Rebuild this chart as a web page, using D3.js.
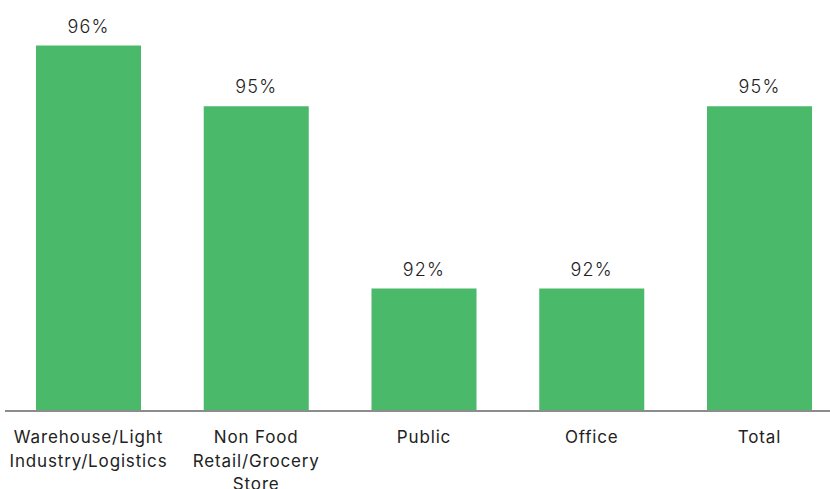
<!DOCTYPE html>
<html>
<head>
<meta charset="utf-8">
<script src="https://cdn.jsdelivr.net/npm/d3@7"></script>
<style>
  html, body { margin: 0; padding: 0; background: #fff; }
  svg { display: block; font-family: Inter, "Open Sans", sans-serif; }
</style>
</head>
<body>
<svg id="chart" width="830" height="489"></svg>
<script>
// Occupancy rate by sector
const categories = [
  ["Warehouse/Light", "Industry/Logistics"],
  ["Non Food", "Retail/Grocery", "Store"],
  ["Public"],
  ["Office"],
  ["Total"]
];
const values = [96, 95, 92, 92, 95];
const valueLabels = ["96%", "95%", "92%", "92%", "95%"];

const svg = d3.select("#chart");
const baseY = 410;

const x = d3.scaleBand()
  .domain(d3.range(values.length))
  .range([4.6, 843.4])
  .paddingInner(0.374)
  .paddingOuter(0.187);

const y = d3.scaleLinear()
  .domain([90, 96])
  .range([baseY, 45.5]);

const green = "#4AB96A";

// Bars
svg.append("g").selectAll("rect")
  .data(values)
  .join("rect")
  .attr("x", (d, i) => x(i))
  .attr("y", d => y(d))
  .attr("width", x.bandwidth())
  .attr("height", d => baseY - y(d))
  .attr("fill", green);

// Value labels above bars
svg.append("g").selectAll("text")
  .data(values)
  .join("text")
  .attr("x", (d, i) => x(i) + x.bandwidth() / 2)
  .attr("y", d => y(d) - 13)
  .attr("text-anchor", "middle")
  .attr("font-size", 18)
  .attr("font-weight", 300)
  .attr("letter-spacing", 1.2)
  .attr("fill", "#222")
  .text((d, i) => valueLabels[i]);

// Baseline
svg.append("line")
  .attr("x1", 5).attr("x2", 830)
  .attr("y1", baseY + 1).attr("y2", baseY + 1)
  .attr("stroke", "#8c8c8c")
  .attr("stroke-width", 2);

// Category labels
const labelG = svg.append("g");
categories.forEach((lines, i) => {
  const t = labelG.append("text")
    .attr("x", x(i) + x.bandwidth() / 2)
    .attr("y", 443)
    .attr("text-anchor", "middle")
    .attr("font-size", 17)
    .attr("letter-spacing", 0.85)
    .attr("fill", "#222");
  lines.forEach((ln, j) => {
    t.append("tspan")
      .attr("x", x(i) + x.bandwidth() / 2)
      .attr("dy", j === 0 ? 0 : 23.5)
      .text(ln);
  });
});
</script>
</body>
</html>
